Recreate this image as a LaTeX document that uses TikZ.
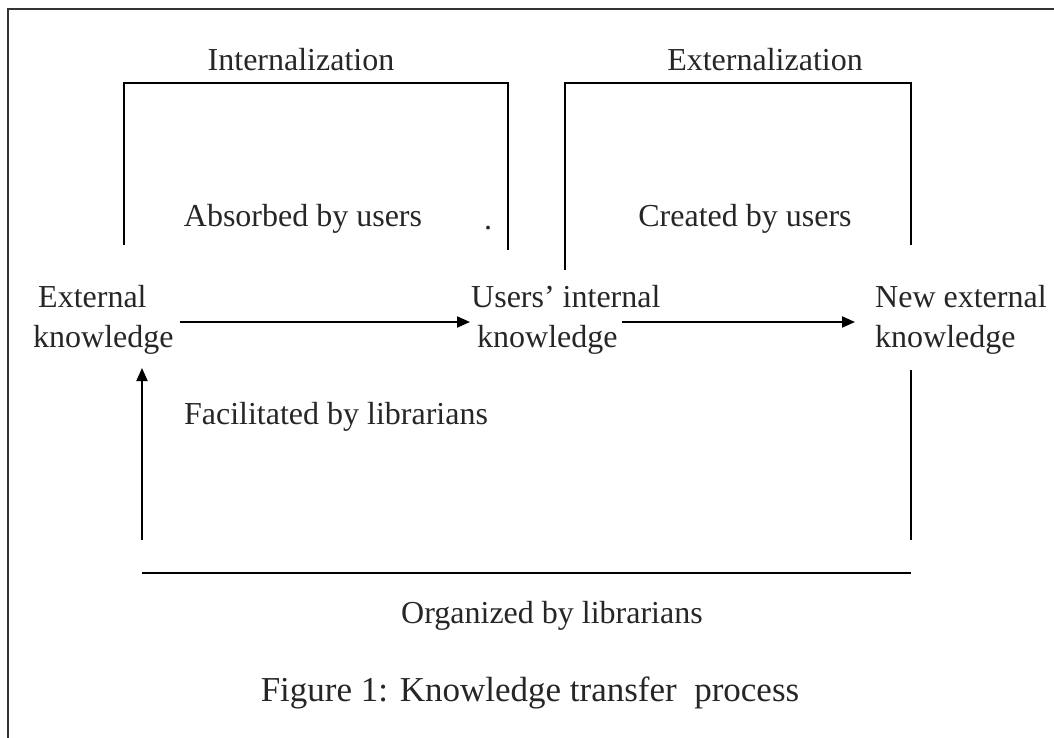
\documentclass[tikz,border=0pt]{standalone}
\usepackage{fontspec}
\setmainfont{Liberation Serif}
\usetikzlibrary{arrows.meta}
\begin{document}
\begin{tikzpicture}[x=1pt,y=-1pt,
  lbl/.style={font=\fontsize{32}{40}\selectfont, text=black!85, inner sep=0pt, align=center},
  two/.style={lbl, align=left, anchor=west},
  ln/.style={line width=2pt, black},
  arr/.style={ln, -{Triangle[length=13pt,width=11pt]}}]
\useasboundingbox (0,0) rectangle (1054,738);
\draw[line width=1.5pt, black!80] (8,738) -- (8,9) -- (1054,9);
% labels
\node[lbl] (int) at (301,60) {Internalization};
\node[lbl] (ext2) at (765,60) {Externalization};
\node[lbl] (abs) at (303,219) {Absorbed by users};
\node[lbl, anchor=base] (dot) at (488,229) {.};
\node[lbl] (cre) at (745,219) {Created by users};
\node[two] (ext) at (33,320) {\hspace*{5pt}External\\knowledge};
\node[two] (uik) at (471,320) {Users' internal\\\hspace*{6pt}knowledge};
\node[two] (nek) at (875,320) {New external\\knowledge};
\node[lbl] (fac) at (336,417) {Facilitated by librarians};
\node[lbl] (org) at (552,616) {Organized by librarians};
\node[lbl, font=\fontsize{35}{40}\selectfont] (cap) at (530,693) {Figure 1: Knowledge transfer\ \ process};
% brackets
\coordinate (ib1) at (124,245);
\coordinate (ib2) at (124,83);
\coordinate (ib3) at (508,83);
\coordinate (ib4) at (508,250);
\draw[ln] (ib1) -- (ib2) -- (ib3) -- (ib4);
\coordinate (eb1) at (565,270);
\coordinate (eb2) at (565,83);
\coordinate (eb3) at (911,83);
\coordinate (eb4) at (911,245);
\draw[ln] (eb1) -- (eb2) -- (eb3) -- (eb4);
% arrows
\draw[arr] ([xshift=6pt,yshift=-2pt]ext.east) -- ([xshift=-1pt,yshift=-2pt]uik.west);
\draw[arr] ([xshift=-39pt,yshift=-2pt]uik.east) -- ([xshift=-20pt,yshift=-2pt]nek.west);
% feedback loop
\coordinate (fr) at (911,370);
\coordinate (frb) at (911,540);
\coordinate (bl) at (142,573);
\coordinate (br) at (911,573);
\coordinate (fb) at (142,540);
\coordinate (ft) at (142,368);
\draw[ln] (fr) -- (frb);
\draw[ln] (bl) -- (br);
\draw[arr] (fb) -- (ft);
\end{tikzpicture}
\end{document}
